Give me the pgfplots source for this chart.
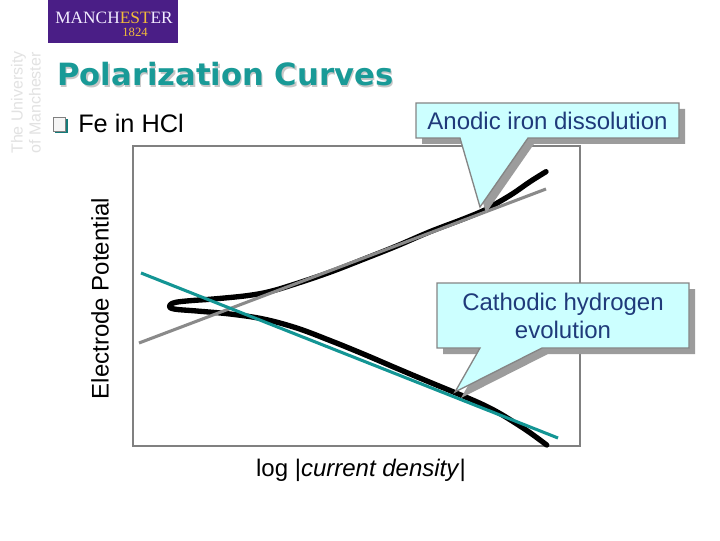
\documentclass[border=0pt]{standalone}
\usepackage{pgfplots}
\pgfplotsset{compat=1.18}
\usepackage{fontspec}
\setmainfont{Liberation Sans}
\newfontfamily\titlefont{DejaVu Sans}
\newfontfamily\logofont{Liberation Serif}
\definecolor{titleteal}{HTML}{199A97}
\definecolor{tealline}{HTML}{139594}
\definecolor{lgray}{HTML}{8A8A8A}
\definecolor{axisgray}{HTML}{808080}
\definecolor{callfill}{HTML}{CCFFFF}
\definecolor{callborder}{HTML}{858585}
\definecolor{callshadow}{HTML}{9C9C9C}
\definecolor{calltext}{HTML}{1F3A7A}
\definecolor{mpurple}{HTML}{4A1E86}
\definecolor{mgold}{HTML}{F2BC3A}
\definecolor{mwhite}{HTML}{F2ECFF}
\definecolor{unigray}{HTML}{E2E2E2}
\begin{document}
\begin{tikzpicture}[x=0.75pt,y=0.75pt]
\fill[white] (0,0) rectangle (720,540);
% logo
\fill[mpurple] (48,497) rectangle (178,540);
\node[anchor=base, inner sep=0pt, text=mwhite] at (114,516) {\logofont\fontsize{13}{13}\selectfont MANCH\textcolor{mgold}{EST}ER};
\node[anchor=base, inner sep=0pt, text=mgold] at (135,503.5) {\logofont\fontsize{9.5}{9.5}\selectfont 1824};
% vertical university text
\node[rotate=90, anchor=south west, inner sep=0pt, text=unigray, align=left, font=\fontsize{12}{13.5}\selectfont] at (41,386) {The University\\of Manchester};
% title
\node[anchor=base west, inner sep=0pt, text=black!22] at (58.5,452.5) {\titlefont\bfseries\fontsize{23}{23}\selectfont Polarization Curves};
\node[anchor=base west, inner sep=0pt, text=titleteal] at (57,454) {\titlefont\bfseries\fontsize{23}{23}\selectfont Polarization Curves};
% bullet
\fill[titleteal!80!black] (55,407) rectangle (68,421);
\filldraw[fill=white!92!gray, draw=gray, line width=0.5pt] (53,409) rectangle (65.5,422.5);
\node[anchor=base west, inner sep=0pt] at (78,407) {\fontsize{19}{19}\selectfont Fe in HCl};
% axis
\begin{axis}[at={(99.75pt,70.5pt)}, anchor=south west, scale only axis,
  width=335.25pt, height=225pt, xmin=133, xmax=580, ymin=94, ymax=394,
  xtick=\empty, ytick=\empty, axis line style={draw=axisgray, line width=1.5pt}, clip=false]
\addplot[draw=black, line width=4pt, smooth, tension=0.6, line cap=round, line join=round] coordinates {
(546.0,368.3) (530.0,358.3) (513.3,346.7) (496.7,336.7) (483.3,329.3) (463.3,321.0)
(430.0,308.3) (396.7,294.0) (363.3,280.7) (330.0,267.8) (296.7,256.5) (270.0,248.5)
(246.7,244.3) (213.3,241.0) (190.0,239.3) (175.0,237.5) (169.5,234.2) (174.0,231.0)
(196.7,229.0) (230.0,226.0) (263.3,221.0) (296.7,212.0) (330.0,199.5) (363.3,186.0)
(396.7,171.7) (430.0,157.7) (456.7,146.7) (480.0,136.7) (496.7,128.3) (513.3,118.3)
(530.0,107.3) (546.7,95.0)};
\addplot[draw=lgray, line width=2.3pt] coordinates {(139,197) (546,351)};
\addplot[draw=tealline, line width=2.3pt] coordinates {(141,267) (558,102)};
\end{axis}
% axis labels
\node[rotate=90, inner sep=0pt, font=\fontsize{18}{18}\selectfont] at (100,241.5) {Electrode Potential};
\node[inner sep=0pt, font=\fontsize{18}{18}\selectfont] at (361,70) {log |\textit{current density}|};
% callout 1
\fill[callshadow] (422,431) -- (685,431) -- (685,396) -- (534,396) -- (486,327) -- (466,396) -- (422,396) -- cycle;
\filldraw[fill=callfill, draw=callborder, line width=1pt] (416,437) -- (679,437) -- (679,402) -- (528,402) -- (480,333) -- (460,402) -- (416,402) -- cycle;
\node[text=calltext, inner sep=0pt, font=\fontsize{18}{18}\selectfont] at (547.5,419.5) {Anodic iron dissolution};
% callout 2
\fill[callshadow] (443,251) -- (695,251) -- (695,186) -- (548,186) -- (461,142) -- (486,186) -- (443,186) -- cycle;
\filldraw[fill=callfill, draw=callborder, line width=1pt] (437,257) -- (689,257) -- (689,192) -- (542,192) -- (455,148) -- (480,192) -- (437,192) -- cycle;
\node[text=calltext, inner sep=0pt, align=center, font=\fontsize{18}{21}\selectfont] at (563,224.5) {Cathodic hydrogen\\evolution};
\end{tikzpicture}
\end{document}
